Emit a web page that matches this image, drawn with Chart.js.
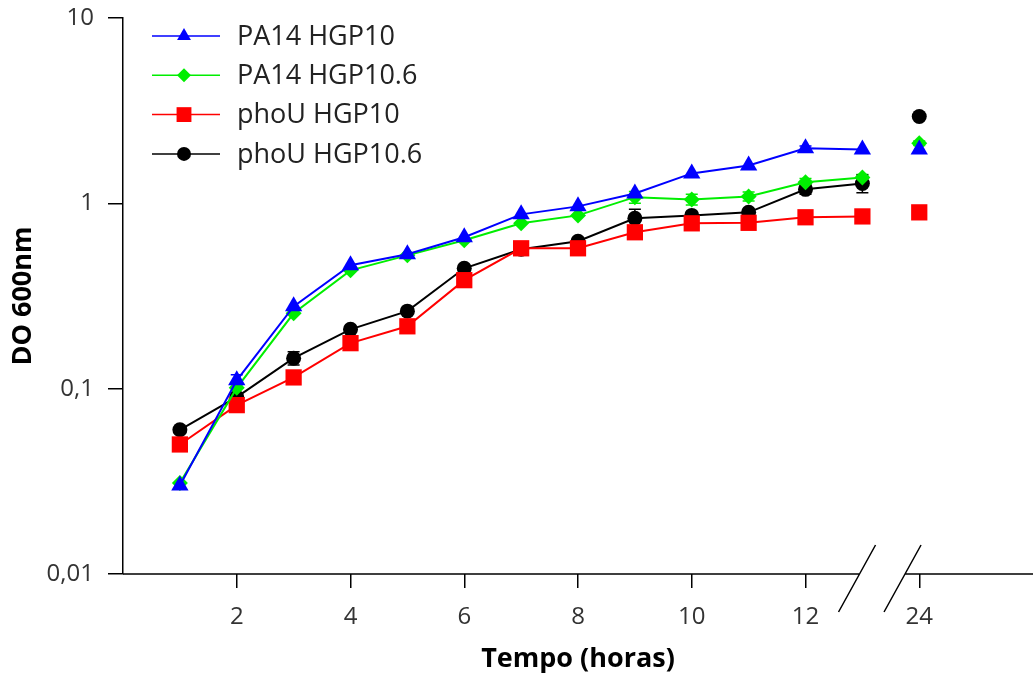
<!DOCTYPE html>
<html>
<head>
<meta charset="utf-8">
<script src="https://cdn.jsdelivr.net/npm/chart.js@4/dist/chart.umd.min.js"></script>
<style>
    html, body { margin: 0; padding: 0; background: #fff; }
    #wrap { width: 1033px; height: 677px; }
</style>
</head>
<body>
<div id="wrap"><canvas id="growth-chart"></canvas></div>
<script>
// --- Data (OD600) ---
const hours = [1, 2, 3, 4, 5, 6, 7, 8, 9, 10, 11, 12, 13, 24];
const seriesNames = ['PA14 HGP10', 'PA14 HGP10.6', 'phoU HGP10', 'phoU HGP10.6'];

const pa14Hgp10 = [0.030, 0.111, 0.278, 0.463, 0.531, 0.656, 0.872, 0.963, 1.13, 1.45, 1.60, 1.98, 1.95, 1.95];
const pa14Hgp106 = [0.031, 0.101, 0.255, 0.435, 0.524, 0.632, 0.780, 0.861, 1.08, 1.05, 1.09, 1.30, 1.38, 2.11];
const phoUHgp10 = [0.050, 0.0815, 0.115, 0.176, 0.217, 0.385, 0.572, 0.572, 0.698, 0.780, 0.785, 0.841, 0.850, 0.894];
const phoUHgp106 = [0.060, 0.090, 0.146, 0.209, 0.262, 0.446, 0.565, 0.624, 0.830, 0.861, 0.894, 1.19, 1.28, 2.94];

// error bars (+/-)
const pa14Hgp10Err = [0, 0.008, 0, 0, 0, 0, 0, 0, 0, 0, 0, 0.06, 0, 0];
const pa14Hgp106Err = [0, 0.008, 0, 0, 0, 0, 0, 0, 0.08, 0.07, 0.06, 0.06, 0.05, 0.06];
const phoUHgp10Err = [0, 0, 0, 0, 0, 0, 0, 0, 0, 0, 0, 0, 0, 0];
const phoUHgp106Err = [0, 0, 0.012, 0, 0, 0, 0, 0, 0.1, 0, 0, 0.07, 0.14, 0];

const xTickHours = [2, 4, 6, 8, 10, 12, 24];
const yTickValues = [0.01, 0.1, 1, 10];
const yTickLabels = ['0,01', '0,1', '1', '10'];

// --- Axis break: hours after 13 are squeezed into one slot ---
const lastRegularHour = 13;
const lateSlot = 14;
const breakFrom = 12.95;
const breakTo = 13.75;
const axisPos = h => (h > lastRegularHour ? lateSlot : h);

const FONT = "'Open Sans', 'Noto Sans', sans-serif";

const styles = [
    { color: '#0000ff', pointStyle: 'triangle', radius: 10, legendRadius: 8 },
    { color: '#00ee00', pointStyle: 'rectRot', radius: 8, legendRadius: 7 },
    { color: '#ff0000', pointStyle: 'rect', radius: 11.5, legendRadius: 10.5 },
    { color: '#000000', pointStyle: 'circle', radius: 7.5, legendRadius: 7 }
];
const seriesValues = [pa14Hgp10, pa14Hgp106, phoUHgp10, phoUHgp106];
const seriesErrors = [pa14Hgp10Err, pa14Hgp106Err, phoUHgp10Err, phoUHgp106Err];

const datasets = seriesNames.map((name, i) => ({
    label: name,
    data: hours.map((h, j) => ({ x: axisPos(h), y: seriesValues[i][j] })),
    errors: seriesErrors[i],
    borderColor: styles[i].color,
    backgroundColor: styles[i].color,
    pointBackgroundColor: styles[i].color,
    pointBorderColor: styles[i].color,
    pointStyle: styles[i].pointStyle,
    pointRadius: styles[i].radius,
    pointBorderWidth: 0,
    legendRadius: styles[i].legendRadius,
    borderWidth: 2,
    tension: 0,
    segment: {
        // no line across the axis break
        borderColor: ctx => (hours[ctx.p1DataIndex] > lastRegularHour ? 'rgba(0,0,0,0)' : undefined)
    }
}));

// --- Marker drawing for the legend ---
const drawMarker = (ctx, style, x, y, r) => {
    ctx.beginPath();
    if (style === 'triangle') {
        ctx.moveTo(x, y - r);
        ctx.lineTo(x + r * 0.866, y + r * 0.5);
        ctx.lineTo(x - r * 0.866, y + r * 0.5);
        ctx.closePath();
    } else if (style === 'rectRot') {
        ctx.moveTo(x, y - r);
        ctx.lineTo(x + r, y);
        ctx.lineTo(x, y + r);
        ctx.lineTo(x - r, y);
        ctx.closePath();
    } else if (style === 'rect') {
        const s = r * Math.SQRT1_2;
        ctx.rect(x - s, y - s, 2 * s, 2 * s);
    } else {
        ctx.arc(x, y, r, 0, Math.PI * 2);
    }
    ctx.fill();
};

const legendPlugin = {
    id: 'insideLegend',
    afterDraw(chart) {
        const { ctx, chartArea } = chart;
        const x0 = chartArea.left + 29;
        const y0 = chartArea.top + 18;
        const rowH = 39.3;
        chart.data.datasets.forEach((ds, i) => {
            const y = y0 + i * rowH;
            ctx.save();
            ctx.strokeStyle = ds.borderColor;
            ctx.fillStyle = ds.borderColor;
            ctx.lineWidth = 1.5;
            ctx.beginPath();
            ctx.moveTo(x0, y);
            ctx.lineTo(x0 + 68, y);
            ctx.stroke();
            drawMarker(ctx, ds.pointStyle, x0 + 32, y, ds.legendRadius);
            ctx.fillStyle = '#222';
            ctx.font = `27px ${FONT}`;
            ctx.textBaseline = 'middle';
            ctx.textAlign = 'left';
            ctx.fillText(ds.label, x0 + 85, y + 1);
            ctx.restore();
        });
    }
};

const errorBarPlugin = {
    id: 'errorBars',
    beforeDatasetsDraw(chart) {
        const { ctx, scales: { x, y } } = chart;
        chart.data.datasets.forEach(ds => {
            ctx.save();
            ctx.strokeStyle = ds.borderColor;
            ctx.lineWidth = 1.5;
            ds.data.forEach((p, j) => {
                const e = ds.errors[j];
                if (!e) return;
                const px = x.getPixelForValue(p.x);
                const top = y.getPixelForValue(p.y + e);
                const bot = y.getPixelForValue(Math.max(p.y - e, 0.0001));
                ctx.beginPath();
                ctx.moveTo(px, top); ctx.lineTo(px, bot);
                ctx.moveTo(px - 6, top); ctx.lineTo(px + 6, top);
                ctx.moveTo(px - 6, bot); ctx.lineTo(px + 6, bot);
                ctx.stroke();
            });
            ctx.restore();
        });
    }
};

const axisBreakPlugin = {
    id: 'axisBreak',
    afterDraw(chart) {
        const { ctx, chartArea, scales: { x } } = chart;
        const yAxis = chartArea.bottom;
        const gapL = x.getPixelForValue(breakFrom);
        const gapR = x.getPixelForValue(breakTo);
        ctx.save();
        ctx.strokeStyle = '#000';
        ctx.lineWidth = 1.5;
        ctx.beginPath();
        ctx.moveTo(chartArea.left, yAxis);
        ctx.lineTo(gapL, yAxis);
        ctx.moveTo(gapR, yAxis);
        ctx.lineTo(chartArea.right, yAxis);
        [gapL, gapR].forEach(px => {
            ctx.moveTo(px - 21, yAxis + 38);
            ctx.lineTo(px + 16, yAxis - 29);
        });
        ctx.stroke();
        ctx.restore();
    }
};

const ctx = document.getElementById('growth-chart').getContext('2d');
new Chart(ctx, {
    type: 'line',
    data: { datasets },
    plugins: [errorBarPlugin, legendPlugin, axisBreakPlugin],
    options: {
        responsive: true,
        maintainAspectRatio: false,
        animation: false,
        layout: { autoPadding: false, padding: { top: 18, right: 0, bottom: 0, left: 0 } },
        plugins: {
            legend: { display: false },
            tooltip: { enabled: false }
        },
        scales: {
            x: {
                type: 'linear',
                min: 0,
                max: 16,
                afterBuildTicks: s => { s.ticks = xTickHours.map(h => ({ value: axisPos(h) })); },
                afterFit: s => {
                    s.height = 103;
                    s.paddingLeft = 0;
                    s.paddingRight = 0;
                },
                ticks: {
                    callback: (v, i) => String(xTickHours[i]),
                    font: { family: FONT, size: 24 },
                    color: '#333',
                    padding: 15,
                    maxRotation: 0
                },
                grid: { drawOnChartArea: false, tickLength: 14, color: '#000', lineWidth: 1.5 },
                border: { display: false },
                title: {
                    display: true,
                    text: 'Tempo (horas)',
                    font: { family: FONT, size: 27, weight: 'bold' },
                    color: '#000',
                    padding: { top: 0, bottom: 1 }
                }
            },
            y: {
                type: 'logarithmic',
                min: 0.01,
                max: 10,
                afterBuildTicks: s => { s.ticks = yTickValues.map(v => ({ value: v })); },
                afterFit: s => {
                    s.width = 123;
                    s.paddingTop = 0;
                    s.paddingBottom = 0;
                },
                ticks: {
                    callback: (v, i) => yTickLabels[i],
                    font: { family: FONT, size: 24 },
                    color: '#333',
                    padding: 14
                },
                grid: { drawOnChartArea: false, tickLength: 15, color: '#000', lineWidth: 1.5 },
                border: { color: '#000', width: 1.5 },
                title: {
                    display: true,
                    text: 'DO 600nm',
                    font: { family: FONT, size: 27, weight: 'bold' },
                    color: '#000',
                    padding: { top: 7, bottom: 0 }
                }
            }
        }
    }
});
</script>
</body>
</html>
